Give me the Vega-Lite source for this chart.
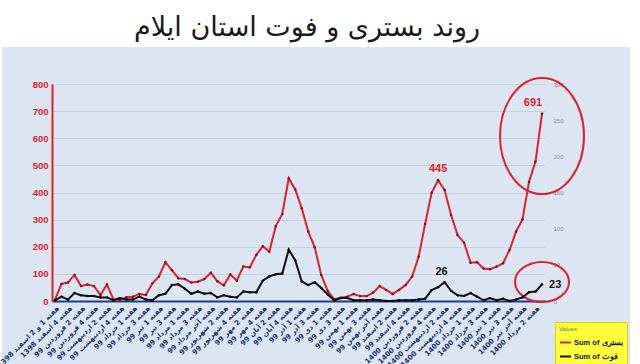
{
  "$schema": "https://vega.github.io/schema/vega-lite/v6.json",
  "width": 628,
  "height": 317,
  "autosize": {"type": "none"},
  "padding": {"left": 2, "top": 47, "right": 10, "bottom": 0},
  "background": "#ffffff",
  "view": {"fill": "#dce6f2", "stroke": null},
  "title": {"text": "روند بستری و فوت استان ایلام", "fontSize": 27, "fontWeight": "normal", "font": "DejaVu Sans", "color": "#1a1a1a", "anchor": "middle", "frame": "group", "offset": 14, "baseline": "alphabetic", "dx": -9, "dy": 30},
  "datasets": {
    "main": [
      {"w": "هفته 1 و 2 اسفند 1398", "h": 4, "d": 1},
      {"w": "هفته 3 اسفند 1398", "h": 63, "d": 6},
      {"w": "هفته 4 اسفند 1398", "h": 68, "d": 2},
      {"w": "هفته 1 فروردین 99", "h": 96, "d": 11},
      {"w": "هفته 2 فروردین 99", "h": 55, "d": 8},
      {"w": "هفته 3 فروردین 99", "h": 61, "d": 7},
      {"w": "هفته 4 فروردین 99", "h": 55, "d": 7},
      {"w": "هفته 1 اردیبهشت 99", "h": 22, "d": 5},
      {"w": "هفته 2 اردیبهشت 99", "h": 61, "d": 5},
      {"w": "هفته 3 اردیبهشت 99", "h": 6, "d": 1},
      {"w": "هفته 4 اردیبهشت 99", "h": 4, "d": 4},
      {"w": "هفته آخر اردیبهشت 99", "h": 14, "d": 2},
      {"w": "هفته 1 خرداد 99", "h": 16, "d": 2},
      {"w": "هفته 2 خرداد 99", "h": 26, "d": 6},
      {"w": "هفته 3 خرداد 99", "h": 22, "d": 2},
      {"w": "هفته 4 خرداد 99", "h": 65, "d": 1},
      {"w": "هفته 1 تیر 99", "h": 90, "d": 8},
      {"w": "هفته 2 تیر 99", "h": 143, "d": 10},
      {"w": "هفته 3 تیر 99", "h": 114, "d": 22},
      {"w": "هفته 4 تیر 99", "h": 84, "d": 23},
      {"w": "هفته 1 مرداد 99", "h": 81, "d": 17},
      {"w": "هفته 2 مرداد 99", "h": 68, "d": 10},
      {"w": "هفته 3 مرداد 99", "h": 71, "d": 13},
      {"w": "هفته 4 مرداد 99", "h": 81, "d": 10},
      {"w": "هفته آخر مرداد 99", "h": 104, "d": 11},
      {"w": "هفته 1 شهریور 99", "h": 73, "d": 5},
      {"w": "هفته 2 شهریور 99", "h": 58, "d": 8},
      {"w": "هفته 3 شهریور 99", "h": 98, "d": 6},
      {"w": "هفته 4 شهریور 99", "h": 75, "d": 5},
      {"w": "هفته 1 مهر 99", "h": 127, "d": 13},
      {"w": "هفته 2 مهر 99", "h": 124, "d": 12},
      {"w": "هفته 3 مهر 99", "h": 170, "d": 12},
      {"w": "هفته 4 مهر 99", "h": 202, "d": 28},
      {"w": "هفته 1 آبان 99", "h": 182, "d": 34},
      {"w": "هفته 2 آبان 99", "h": 276, "d": 37},
      {"w": "هفته 3 آبان 99", "h": 321, "d": 38},
      {"w": "هفته 4 آبان 99", "h": 452, "d": 71},
      {"w": "هفته آخر آبان 99", "h": 411, "d": 56},
      {"w": "هفته 1 آذر 99", "h": 342, "d": 27},
      {"w": "هفته 2 آذر 99", "h": 256, "d": 22},
      {"w": "هفته 3 آذر 99", "h": 198, "d": 26},
      {"w": "هفته 4 آذر 99", "h": 96, "d": 18},
      {"w": "هفته 1 دی 99", "h": 37, "d": 9},
      {"w": "هفته 2 دی 99", "h": 6, "d": 1},
      {"w": "هفته 3 دی 99", "h": 12, "d": 4},
      {"w": "هفته 4 دی 99", "h": 16, "d": 4},
      {"w": "هفته 1 بهمن 99", "h": 26, "d": 1},
      {"w": "هفته 2 بهمن 99", "h": 18, "d": 1},
      {"w": "هفته 3 بهمن 99", "h": 18, "d": 1},
      {"w": "هفته 4 بهمن 99", "h": 31, "d": 2},
      {"w": "هفته آخر بهمن 99", "h": 55, "d": 1},
      {"w": "هفته 1 اسفند 99", "h": 41, "d": 0},
      {"w": "هفته 2 اسفند 99", "h": 26, "d": 0},
      {"w": "هفته 3 اسفند 99", "h": 41, "d": 1},
      {"w": "هفته 4 اسفند 99", "h": 59, "d": 1},
      {"w": "هفته 1 فروردین 1400", "h": 90, "d": 1},
      {"w": "هفته 2 فروردین 1400", "h": 163, "d": 2},
      {"w": "هفته 3 فروردین 1400", "h": 284, "d": 3},
      {"w": "هفته 4 فروردین 1400", "h": 399, "d": 15},
      {"w": "هفته 1 اردیبهشت 1400", "h": 445, "d": 19},
      {"w": "هفته 2 اردیبهشت 1400", "h": 409, "d": 26},
      {"w": "هفته 3 اردیبهشت 1400", "h": 317, "d": 14},
      {"w": "هفته 4 اردیبهشت 1400", "h": 243, "d": 8},
      {"w": "هفته آخر اردیبهشت 1400", "h": 215, "d": 7},
      {"w": "هفته 1 خرداد 1400", "h": 141, "d": 11},
      {"w": "هفته 2 خرداد 1400", "h": 143, "d": 6},
      {"w": "هفته 3 خرداد 1400", "h": 120, "d": 1},
      {"w": "هفته 4 خرداد 1400", "h": 117, "d": 4},
      {"w": "هفته 1 تیر 1400", "h": 127, "d": 1},
      {"w": "هفته 2 تیر 1400", "h": 139, "d": 3},
      {"w": "هفته 3 تیر 1400", "h": 188, "d": 0},
      {"w": "هفته 4 تیر 1400", "h": 256, "d": 2},
      {"w": "هفته آخر تیر 1400", "h": 301, "d": 5},
      {"w": "هفته 1 مرداد 1400", "h": 440, "d": 12},
      {"w": "هفته 2 مرداد 1400", "h": 514, "d": 13},
      {"w": "هفته 3 مرداد 1400", "h": 691, "d": 23}
    ],
    "ann": [
      {"w": "هفته 3 مرداد 1400", "v": 608, "k": "big"},
      {"w": "هفته 3 مرداد 1400", "v": 70, "k": "small"}
    ]
  },
  "data": {"name": "main"},
  "encoding": {
    "x": {
      "field": "w", "type": "nominal",
      "scale": {"type": "point", "range": [50, 543], "padding": 0.46, "domain": [
        "هفته 1 و 2 اسفند 1398", "هفته 3 اسفند 1398", "هفته 4 اسفند 1398",
        "هفته 1 فروردین 99", "هفته 2 فروردین 99", "هفته 3 فروردین 99", "هفته 4 فروردین 99",
        "هفته 1 اردیبهشت 99", "هفته 2 اردیبهشت 99", "هفته 3 اردیبهشت 99", "هفته 4 اردیبهشت 99", "هفته آخر اردیبهشت 99",
        "هفته 1 خرداد 99", "هفته 2 خرداد 99", "هفته 3 خرداد 99", "هفته 4 خرداد 99",
        "هفته 1 تیر 99", "هفته 2 تیر 99", "هفته 3 تیر 99", "هفته 4 تیر 99",
        "هفته 1 مرداد 99", "هفته 2 مرداد 99", "هفته 3 مرداد 99", "هفته 4 مرداد 99", "هفته آخر مرداد 99",
        "هفته 1 شهریور 99", "هفته 2 شهریور 99", "هفته 3 شهریور 99", "هفته 4 شهریور 99",
        "هفته 1 مهر 99", "هفته 2 مهر 99", "هفته 3 مهر 99", "هفته 4 مهر 99",
        "هفته 1 آبان 99", "هفته 2 آبان 99", "هفته 3 آبان 99", "هفته 4 آبان 99", "هفته آخر آبان 99",
        "هفته 1 آذر 99", "هفته 2 آذر 99", "هفته 3 آذر 99", "هفته 4 آذر 99",
        "هفته 1 دی 99", "هفته 2 دی 99", "هفته 3 دی 99", "هفته 4 دی 99",
        "هفته 1 بهمن 99", "هفته 2 بهمن 99", "هفته 3 بهمن 99", "هفته 4 بهمن 99", "هفته آخر بهمن 99",
        "هفته 1 اسفند 99", "هفته 2 اسفند 99", "هفته 3 اسفند 99", "هفته 4 اسفند 99",
        "هفته 1 فروردین 1400", "هفته 2 فروردین 1400", "هفته 3 فروردین 1400", "هفته 4 فروردین 1400",
        "هفته 1 اردیبهشت 1400", "هفته 2 اردیبهشت 1400", "هفته 3 اردیبهشت 1400", "هفته 4 اردیبهشت 1400", "هفته آخر اردیبهشت 1400",
        "هفته 1 خرداد 1400", "هفته 2 خرداد 1400", "هفته 3 خرداد 1400", "هفته 4 خرداد 1400",
        "هفته 1 تیر 1400", "هفته 2 تیر 1400", "هفته 3 تیر 1400", "هفته 4 تیر 1400", "هفته آخر تیر 1400",
        "هفته 1 مرداد 1400", "هفته 2 مرداد 1400", "هفته 3 مرداد 1400"
      ]},
      "axis": {
        "title": null, "offset": -63, "labelAngle": -45, "labelFontSize": 7, "labelFont": "DejaVu Sans", "labelFontWeight": "bold", "labelColor": "#1d2f7d",
        "ticks": false, "domainColor": "#1f3a8a", "domainWidth": 2, "labelPadding": 3, "grid": false,
        "values": [
          "هفته 1 و 2 اسفند 1398", "هفته 4 اسفند 1398", "هفته 2 فروردین 99", "هفته 4 فروردین 99",
          "هفته 2 اردیبهشت 99", "هفته 4 اردیبهشت 99", "هفته 1 خرداد 99", "هفته 3 خرداد 99",
          "هفته 1 تیر 99", "هفته 3 تیر 99", "هفته 1 مرداد 99", "هفته 3 مرداد 99", "هفته آخر مرداد 99",
          "هفته 2 شهریور 99", "هفته 4 شهریور 99", "هفته 2 مهر 99", "هفته 4 مهر 99",
          "هفته 2 آبان 99", "هفته 4 آبان 99", "هفته 1 آذر 99", "هفته 3 آذر 99",
          "هفته 1 دی 99", "هفته 3 دی 99", "هفته 1 بهمن 99", "هفته 3 بهمن 99", "هفته آخر بهمن 99",
          "هفته 2 اسفند 99", "هفته 4 اسفند 99", "هفته 2 فروردین 1400", "هفته 4 فروردین 1400",
          "هفته 2 اردیبهشت 1400", "هفته 4 اردیبهشت 1400", "هفته 1 خرداد 1400", "هفته 3 خرداد 1400",
          "هفته 1 تیر 1400", "هفته 3 تیر 1400", "هفته آخر تیر 1400", "هفته 2 مرداد 1400"
        ]
      }
    }
  },
  "layer": [
    {
      "encoding": {
        "y": {"type": "quantitative", "scale": {"domain": [0, 800], "range": [254, 37], "nice": false, "zero": true},
          "axis": {"orient": "left", "offset": -50, "values": [0, 100, 200, 300, 400, 500, 600, 700, 800], "title": null,
            "labelColor": "#e0202a", "labelFontWeight": "bold", "labelFontSize": 9.5, "labelFont": "Liberation Sans",
            "domainColor": "#e0202a", "domainWidth": 2, "ticks": false, "labelPadding": 4,
            "grid": true, "gridColor": "#c3cedb", "gridWidth": 0.8}}
      },
      "layer": [
        {
          "mark": {"type": "line", "strokeWidth": 2},
          "encoding": {
            "y": {"field": "h", "type": "quantitative", "title": null},
            "color": {"datum": "Sum of بستری", "type": "nominal",
              "scale": {"domain": ["Sum of بستری", "Sum of فوت"], "range": ["#e0202a", "#111111"]},
              "legend": {"orient": "none", "legendX": 553, "legendY": 275, "fillColor": "#ffff3a", "strokeColor": "#d8cc20", "padding": 4,
                "title": "Values", "titleFontSize": 6, "titleColor": "#777777", "titleFontWeight": "normal", "titlePadding": 4,
                "labelFontSize": 7.5, "labelFontWeight": "bold", "labelColor": "#111111", "labelFont": "Liberation Sans",
                "symbolType": "stroke", "symbolStrokeWidth": 2, "symbolSize": 120, "rowPadding": 3, "labelOffset": 2}}
          }
        },
        {
          "mark": {"type": "point", "filled": true, "size": 6, "color": "#7a1420", "opacity": 1},
          "encoding": {"y": {"field": "h", "type": "quantitative", "title": null}}
        },
        {
          "transform": [{"filter": "datum.w == 'هفته 1 اردیبهشت 1400'"}],
          "mark": {"type": "text", "dy": -11, "fontSize": 11, "fontWeight": "bold", "font": "Liberation Sans", "color": "#e0202a"},
          "encoding": {"y": {"field": "h", "type": "quantitative", "title": null}, "text": {"field": "h"}}
        },
        {
          "transform": [{"filter": "datum.w == 'هفته 3 مرداد 1400'"}],
          "mark": {"type": "text", "dy": -11, "dx": -9, "fontSize": 11, "fontWeight": "bold", "font": "Liberation Sans", "color": "#e0202a"},
          "encoding": {"y": {"field": "h", "type": "quantitative", "title": null}, "text": {"field": "h"}}
        },
        {
          "data": {"name": "ann"},
          "transform": [{"filter": "datum.k == 'big'"}],
          "mark": {"type": "point", "shape": "M -0.724 0 A 0.724 1 0 1 0 0.724 0 A 0.724 1 0 1 0 -0.724 0 Z", "size": 13456, "filled": false, "stroke": "#e0202a", "strokeWidth": 2, "opacity": 1},
          "encoding": {"y": {"field": "v", "type": "quantitative", "title": null}}
        },
        {
          "data": {"name": "ann"},
          "transform": [{"filter": "datum.k == 'small'"}],
          "mark": {"type": "point", "shape": "M -1.35 0 A 1.35 1 0 1 0 1.35 0 A 1.35 1 0 1 0 -1.35 0 Z", "size": 1600, "filled": false, "stroke": "#e0202a", "strokeWidth": 2, "opacity": 1},
          "encoding": {"y": {"field": "v", "type": "quantitative", "title": null}}
        }
      ]
    },
    {
      "encoding": {
        "y": {"type": "quantitative", "scale": {"domain": [0, 300], "range": [254, 37], "nice": false, "zero": true},
          "axis": {"orient": "right", "offset": -85, "values": [0, 50, 100, 150, 200, 250, 300], "title": null,
            "domain": false, "ticks": false, "labelColor": "#8c8c8c", "labelFontSize": 6, "labelPadding": 8, "grid": false}}
      },
      "layer": [
        {
          "mark": {"type": "line", "strokeWidth": 2},
          "encoding": {
            "y": {"field": "d", "type": "quantitative", "title": null},
            "color": {"datum": "Sum of فوت", "type": "nominal"}
          }
        },
        {
          "mark": {"type": "point", "filled": true, "size": 6, "color": "#000000", "opacity": 1},
          "encoding": {"y": {"field": "d", "type": "quantitative", "title": null}}
        },
        {
          "transform": [{"filter": "datum.w == 'هفته 2 اردیبهشت 1400'"}],
          "mark": {"type": "text", "dy": -10, "dx": -3, "fontSize": 11, "fontWeight": "bold", "font": "Liberation Sans", "color": "#111111"},
          "encoding": {"y": {"field": "d", "type": "quantitative", "title": null}, "text": {"field": "d"}}
        },
        {
          "transform": [{"filter": "datum.w == 'هفته 3 مرداد 1400'"}],
          "mark": {"type": "text", "dx": 7, "dy": 1, "align": "left", "baseline": "middle", "fontSize": 11, "fontWeight": "bold", "font": "Liberation Sans", "color": "#111111"},
          "encoding": {"y": {"field": "d", "type": "quantitative", "title": null}, "text": {"field": "d"}}
        }
      ]
    }
  ],
  "resolve": {"scale": {"y": "independent"}}
}
